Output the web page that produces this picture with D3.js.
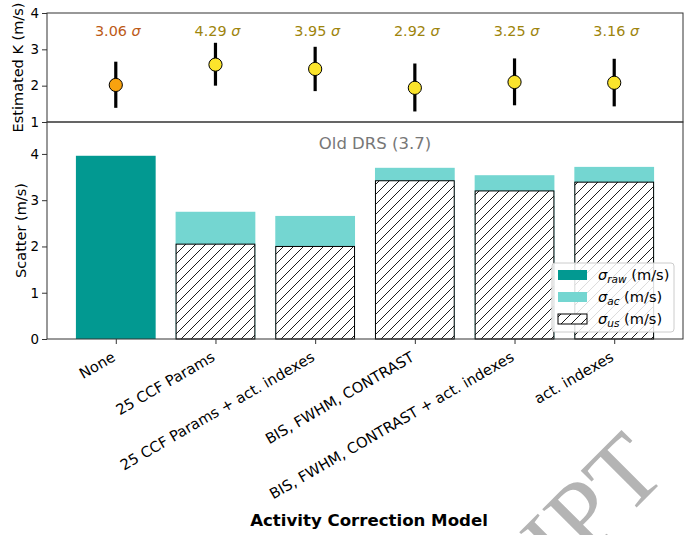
<!DOCTYPE html>
<html><head><meta charset="utf-8">
<script src="https://cdn.jsdelivr.net/npm/d3@7"></script>
<style>body{margin:0;background:#fff}svg{display:block;font-family:"DejaVu Sans",sans-serif}</style>
</head><body><svg id="c" width="692" height="535"></svg>
<script>
const categories = ["None","25 CCF Params","25 CCF Params + act. indexes","BIS, FWHM, CONTRAST","BIS, FWHM, CONTRAST + act. indexes","act. indexes"];
const sigmaRaw = [3.96, null, null, null, null, null];
const sigmaAc  = [null, 2.75, 2.66, 3.70, 3.54, 3.72];
const sigmaUs  = [null, 2.05, 2.00, 3.42, 3.20, 3.39];
const kEst  = [2.02, 2.58, 2.46, 1.94, 2.10, 2.08];
const kLow  = [1.39, 2.00, 1.85, 1.29, 1.46, 1.43];
const kHigh = [2.66, 3.18, 3.07, 2.61, 2.75, 2.74];
const signif = ["3.06","4.29","3.95","2.92","3.25","3.16"];
const topTicks = [1,2,3,4];
const botTicks = [0,1,2,3,4];
const oldDRS = 3.7;

const svg = d3.select("#c");
const L=47, R=683, T1=13, B1=122, B2=339;
const x = d3.scaleLinear().domain([-0.69,5.69]).range([L,R]);
const yTop = d3.scaleLinear().domain([1,4]).range([B1,T1]);
const yBot = d3.scaleLinear().domain([0,4.69]).range([B2,B1]);

const defs = svg.append("defs");
const pat = defs.append("pattern").attr("id","hatch").attr("patternUnits","userSpaceOnUse").attr("width",10).attr("height",10);
pat.append("rect").attr("width",10).attr("height",10).attr("fill","#fff");
pat.append("path").attr("d","M0,10 L10,0 M-3,3 L3,-3 M7,13 L13,7").attr("stroke","#000").attr("stroke-width",0.9);

const C_RAW="#029991", C_AC="#74d6d1";
const bw = 0.8;

// ---- bottom axes bars
const gb = svg.append("g");
categories.forEach((c,i)=>{
  const x0 = x(i-bw/2), w = x(i+bw/2)-x(i-bw/2);
  if (sigmaRaw[i]!=null) gb.append("rect").attr("x",x0).attr("y",yBot(sigmaRaw[i])).attr("width",w).attr("height",yBot(0)-yBot(sigmaRaw[i])).attr("fill",C_RAW);
  if (sigmaAc[i]!=null) gb.append("rect").attr("x",x0).attr("y",yBot(sigmaAc[i])).attr("width",w).attr("height",yBot(0)-yBot(sigmaAc[i])).attr("fill",C_AC);
  if (sigmaUs[i]!=null) gb.append("rect").attr("x",x0+0.5).attr("y",yBot(sigmaUs[i])).attr("width",w-1).attr("height",yBot(0)-yBot(sigmaUs[i])).attr("fill","url(#hatch)").attr("stroke","#000").attr("stroke-width",1);
});

svg.append("text").attr("x",x(2.6)).attr("y",149).attr("text-anchor","middle").attr("font-size",16.5).attr("fill","#777").text(`Old DRS (${oldDRS})`);

// ---- top axes points
const gt = svg.append("g");
categories.forEach((c,i)=>{
  gt.append("line").attr("x1",x(i)).attr("x2",x(i)).attr("y1",yTop(kLow[i])).attr("y2",yTop(kHigh[i])).attr("stroke","#000").attr("stroke-width",3.2);
  gt.append("circle").attr("cx",x(i)).attr("cy",yTop(kEst[i])).attr("r",6.6).attr("fill",i===0?"#f8a20f":"#fbe42c").attr("stroke","#000").attr("stroke-width",1);
  const t = gt.append("text").attr("x",x(i)+2).attr("y",36).attr("text-anchor","middle").attr("font-size",14.4).attr("fill",i===0?"#bc5a17":"#9e840c");
  t.append("tspan").text(signif[i]+" ");
  t.append("tspan").attr("font-style","italic").text("σ");
});

// ---- axes frames
svg.append("rect").attr("x",L).attr("y",T1).attr("width",R-L).attr("height",B1-T1).attr("fill","none").attr("stroke","#333").attr("stroke-width",1);
svg.append("rect").attr("x",L).attr("y",B1).attr("width",R-L).attr("height",B2-B1).attr("fill","none").attr("stroke","#333").attr("stroke-width",1);

// y axes
const ayT = svg.append("g").attr("transform",`translate(${L},0)`).call(d3.axisLeft(yTop).tickValues(topTicks).tickFormat(d3.format("d")).tickSize(5).tickPadding(3));
const ayB = svg.append("g").attr("transform",`translate(${L},0)`).call(d3.axisLeft(yBot).tickValues(botTicks).tickFormat(d3.format("d")).tickSize(5).tickPadding(3));
[ayT,ayB].forEach(a=>{a.select(".domain").remove();a.selectAll("text").attr("font-size",13.4).attr("font-family","DejaVu Sans").attr("fill","#000");a.selectAll("line").attr("stroke","#333");});

// x axis
const ax = svg.append("g").attr("transform",`translate(0,${B2})`).call(d3.axisBottom(x).tickValues(d3.range(categories.length)).tickFormat(i=>categories[i]).tickSize(5));
ax.select(".domain").remove();
ax.selectAll("line").attr("stroke","#333");
ax.selectAll("text").attr("font-size",14.7).attr("font-family","DejaVu Sans").attr("fill","#000")
  .attr("text-anchor","end").attr("dy",null).attr("y",0)
  .attr("transform","translate(0,21) rotate(-30)");

// axis labels
svg.append("text").attr("transform",`translate(18,${(T1+B1)/2}) rotate(-90)`).attr("text-anchor","middle").attr("dy","0.35em").attr("font-size",14.5).text("Estimated K (m/s)");
svg.append("text").attr("transform",`translate(21,${(B1+B2)/2}) rotate(-90)`).attr("text-anchor","middle").attr("dy","0.35em").attr("font-size",14.5).text("Scatter (m/s)");
svg.append("text").attr("x",369).attr("y",526).attr("text-anchor","middle").attr("font-size",16.6).attr("font-weight","bold").text("Activity Correction Model");

// legend
const lg = svg.append("g").attr("transform","translate(552,263)");
lg.append("rect").attr("width",122).attr("height",69).attr("rx",3).attr("fill","#fff").attr("fill-opacity",0.85).attr("stroke","#ccc");
const items=[["raw",C_RAW,false],["ac",C_AC,false],["us","url(#hatch)",true]];
items.forEach((it,k)=>{
  const yy = 12 + k*22;
  lg.append("rect").attr("x",6).attr("y",yy-5).attr("width",29).attr("height",10).attr("fill",it[1]).attr("stroke",it[2]?"#000":"none");
  const t = lg.append("text").attr("x",46).attr("y",yy+5).attr("font-size",14.6);
  t.append("tspan").attr("font-style","italic").text("σ");
  t.append("tspan").attr("font-style","italic").attr("font-size",10.5).attr("dy",3).text(it[0]);
  t.append("tspan").attr("dy",-3).text(" (m/s)");
});

// watermark
svg.append("text").attr("transform","translate(669,475) rotate(-45)").attr("text-anchor","end")
  .attr("font-family","Liberation Serif").attr("font-size",100).attr("fill","#b4b4b4").text("MANUSCRIPT");
</script></body></html>
